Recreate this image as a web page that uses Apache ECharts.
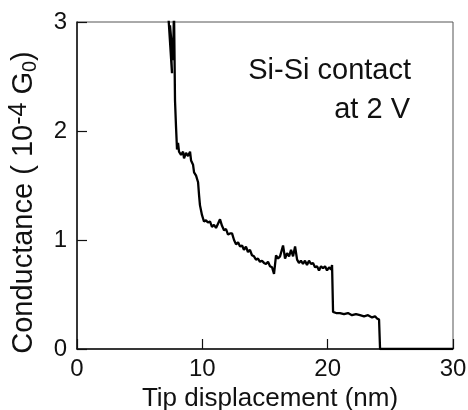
<!DOCTYPE html>
<html><head><meta charset="utf-8">
<script src="https://cdn.jsdelivr.net/npm/echarts@6/dist/echarts.min.js"></script>
<style>html,body{margin:0;padding:0;background:#fff}#c{width:468px;height:410px}</style>
</head><body><div id="c"></div>
<script>
const xTicks = [0, 10, 20, 30];
const yTicks = [0, 1, 2, 3];
const dispNm = [7.26,7.58,7.42,7.66,7.74,7.82,7.90,7.98,8.06,8.14,8.30,8.46,8.54,8.70,8.86,9.02,9.10,9.26,9.34,9.50,9.66,9.74,9.81,9.97,10.13,10.29,10.45,10.61,10.77,10.93,11.09,11.25,11.41,11.57,11.73,11.89,12.05,12.21,12.37,12.53,12.69,12.85,13.01,13.17,13.32,13.48,13.64,13.80,13.96,14.12,14.28,14.44,14.60,14.76,14.92,15.08,15.24,15.40,15.56,15.72,15.88,16.04,16.20,16.44,16.60,16.76,16.92,17.08,17.24,17.40,17.56,17.71,17.87,18.03,18.19,18.35,18.51,18.67,18.83,18.99,19.15,19.31,19.47,19.63,19.79,19.95,20.11,20.27,20.35,20.43,20.67,20.98,21.30,21.62,21.94,22.26,22.58,22.90,23.22,23.54,23.78,23.94,24.10,24.18,30];
const conductance = [3.11,2.53,2.97,2.65,3.11,2.28,2.04,1.83,1.89,1.81,1.78,1.81,1.75,1.80,1.77,1.81,1.73,1.69,1.62,1.59,1.53,1.41,1.32,1.23,1.17,1.18,1.16,1.17,1.12,1.14,1.11,1.15,1.19,1.13,1.09,1.10,1.05,1.06,1.06,1.00,0.96,0.98,0.94,0.95,0.91,0.94,0.89,0.91,0.86,0.85,0.82,0.83,0.80,0.81,0.79,0.78,0.80,0.76,0.75,0.69,0.86,0.83,0.85,0.95,0.83,0.88,0.85,0.91,0.85,0.94,0.82,0.79,0.81,0.78,0.81,0.77,0.81,0.78,0.79,0.75,0.76,0.72,0.76,0.74,0.76,0.72,0.75,0.73,0.77,0.34,0.33,0.33,0.32,0.33,0.31,0.32,0.31,0.30,0.31,0.29,0.30,0.28,0.27,0,0];
const annotation = ['Si-Si contact', 'at 2 V'];

const FONT = '"Liberation Sans", Arial, Helvetica, sans-serif';
const chart = echarts.init(document.getElementById('c'), null, {renderer: 'canvas'});
chart.setOption({
  animation: false,
  backgroundColor: '#fff',
  grid: {left: 77, top: 22, right: 15, bottom: 61, containLabel: false, outerBoundsMode: 'none',
         show: true, borderColor: '#555', borderWidth: 1},
  xAxis: {
    type: 'value', min: xTicks[0], max: xTicks[xTicks.length-1], interval: 10,
    name: 'Tip displacement (nm)', nameLocation: 'middle', nameGap: 36,
    nameTextStyle: {fontFamily: FONT, fontSize: 26, color: '#111', padding: [0, 0, 0, 10]},
    axisLine: {show: true, lineStyle: {color: '#111', width: 1.5}},
    axisTick: {show: true, inside: true, length: 10, lineStyle: {color: '#111', width: 1.2}},
    axisLabel: {fontFamily: FONT, fontSize: 24, color: '#111', margin: 8},
    splitLine: {show: false}
  },
  yAxis: {
    type: 'value', min: yTicks[0], max: yTicks[yTicks.length-1], interval: 1,
    name: 'Conductance ( 10{sup|-4} G{sub|0})', nameLocation: 'middle', nameGap: 37, nameRotate: 90,
    nameTextStyle: {fontFamily: FONT, fontSize: 29, color: '#111', padding: [0, 34, 0, 0],
      rich: {
        sup: {fontFamily: FONT, fontSize: 25, color: '#111', verticalAlign: 'top', padding: [0,0,8,0]},
        sub: {fontFamily: FONT, fontSize: 20, color: '#111', verticalAlign: 'bottom'}
      }},
    axisLine: {show: true, lineStyle: {color: '#111', width: 1.5}},
    axisTick: {show: true, inside: true, length: 10, lineStyle: {color: '#111', width: 1.2}},
    axisLabel: {fontFamily: FONT, fontSize: 24, color: '#111', margin: 10},
    splitLine: {show: false}
  },
  graphic: [
    {type: 'text', right: 57, top: 56, style: {text: annotation[0], font: '29px ' + FONT, fill: '#111', textAlign: 'right'}},
    {type: 'text', right: 58, top: 95, style: {text: annotation[1], font: '29px ' + FONT, fill: '#111', textAlign: 'right'}}
  ],
  series: [{
    type: 'line', showSymbol: false, clip: true,
    data: dispNm.map((x, i) => [x, conductance[i]]),
    lineStyle: {color: '#000', width: 2.3}
  }]
});
</script></body></html>
